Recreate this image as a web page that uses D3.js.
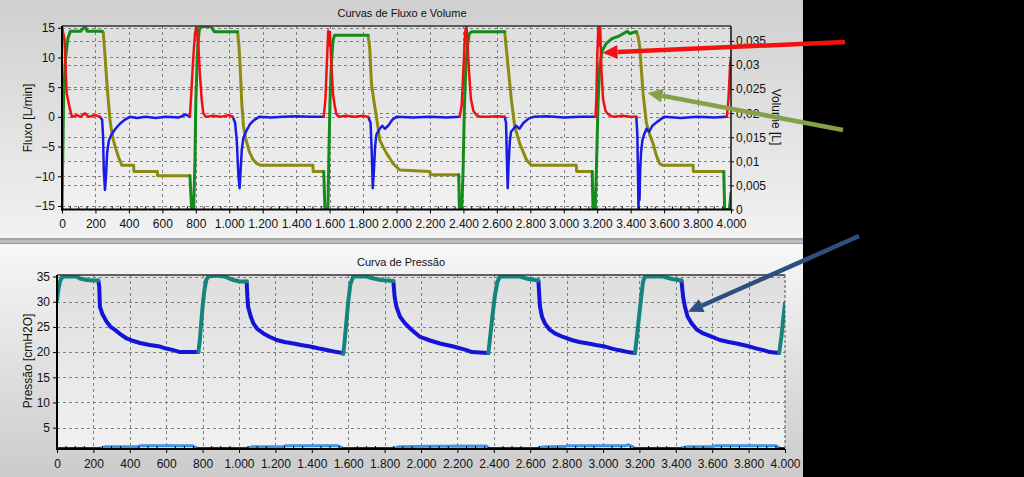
<!DOCTYPE html>
<html>
<head>
<meta charset="utf-8">
<script src="https://cdn.jsdelivr.net/npm/d3@7"></script>
<style>
  body { margin: 0; background: #000; }
  text { font-family: Arial, "Liberation Sans", sans-serif; }
</style>
</head>
<body>
<svg id="chart"></svg>
<script>
// ---- data (t in ms) ----
var timeTicks = [0, 200, 400, 600, 800, 1000, 1200, 1400, 1600, 1800, 2000, 2200, 2400, 2600, 2800, 3000, 3200, 3400, 3600, 3800, 4000];
var flowTicks = [-15, -10, -5, 0, 5, 10, 15];
var volTicks = [0, 0.005, 0.01, 0.015, 0.02, 0.025, 0.03, 0.035];
var presTicks = [5, 10, 15, 20, 25, 30, 35];

// flow, inspiratory part (red)
var flowInsp = [
  [0, 15.2], [8, 14], [15, 13], [22, 8], [28, 4], [35, 3], [50, 1], [60, 0], [90, 0.3], [110, 0], [137, 0.6], [160, 0], [200, 0.3], [227, 0], null,
  [765, 0], [775, 5], [785, 10], [795, 14], [805, 15.4], [815, 12], [825, 7], [835, 3], [845, 0.6], [860, 0], [900, 0.2], [950, 0], [1000, 0.3], [1021, 0], null,
  [1565, 0], [1575, 3], [1585, 10], [1592, 14.5], [1598, 12], [1602, 14.3], [1610, 9], [1620, 4], [1630, 2], [1640, 0.5], [1655, 0], [1700, 0.2], [1750, 0], [1800, 0.2], [1830, 0], null,
  [2378, 0], [2390, 2], [2400, 8], [2410, 14], [2418, 15.5], [2425, 12], [2435, 7], [2445, 3], [2460, 1], [2478, 0.3], [2500, 0], [2550, 0], [2600, 0.1], [2647, 0], null,
  [3190, 0], [3195, 3], [3200, 10], [3207, 15.3], [3213, 12], [3218, 15], [3225, 8], [3235, 3], [3250, 1], [3270, 0.3], [3300, 0], [3350, 0.2], [3400, 0], [3434, 0], null,
  [3975, 0], [3985, 3], [3995, 9], [4000, 10]
];
// flow, expiratory part (blue)
var flowExp = [
  [227, 0], [240, -0.5], [245, -3], [250, -9], [257, -12.3], [263, -10], [270, -6], [280, -4], [295, -3], [320, -2], [345, -1.2], [375, -0.5], [405, 0], [450, -0.2], [500, 0], [560, -0.2], [620, 0], [700, -0.1], [740, 0.4], [765, 0], null,
  [1021, 0], [1035, -1], [1045, -4], [1055, -10], [1062, -12], [1068, -9], [1075, -5.5], [1085, -3.5], [1100, -2.5], [1125, -1.2], [1150, -0.5], [1180, 0], [1250, -0.1], [1320, 0], [1400, 0.1], [1480, 0], [1565, 0], null,
  [1830, 0], [1845, -1], [1852, -6], [1858, -12], [1865, -9], [1872, -5], [1880, -3], [1890, -2.5], [1900, -2], [1915, -1.5], [1930, -2], [1950, -1.5], [1975, -0.5], [2000, 0], [2100, -0.1], [2200, 0], [2300, -0.1], [2378, 0], null,
  [2647, 0], [2655, -1], [2660, -7], [2665, -12], [2670, -8], [2678, -4], [2685, -2.5], [2700, -2], [2715, -1.5], [2735, -2], [2760, -1], [2790, -0.3], [2820, 0], [2900, 0.1], [3000, -0.1], [3100, 0], [3190, 0], null,
  [3434, 0], [3440, -3], [3444, -10], [3447, -15.8], [3450, -8], [3453, -14], [3457, -9], [3462, -6], [3470, -4], [3480, -3], [3495, -2], [3510, -2.5], [3530, -1.5], [3560, -0.8], [3600, 0], [3700, -0.2], [3800, 0], [3900, -0.1], [3975, 0]
];
// volume, inspiratory part (green)
var volInsp = [
  [0, 0], [5, 0.012], [10, 0.024], [20, 0.031], [35, 0.0355], [50, 0.037], [110, 0.037], [125, 0.0375], [140, 0.038], [150, 0.037], [240, 0.037], null,
  [765, 0.007], [775, 0], [787, 0], [795, 0.01], [800, 0.022], [808, 0.031], [818, 0.0365], [825, 0.038], [890, 0.038], [900, 0.0375], [910, 0.0369], [1050, 0.0369], null,
  [1565, 0.0079], [1572, 0], [1590, 0], [1595, 0.01], [1602, 0.022], [1610, 0.03], [1620, 0.035], [1630, 0.0362], [1830, 0.0362], null,
  [2372, 0.0072], [2376, 0], [2390, 0], [2398, 0.008], [2405, 0.02], [2415, 0.03], [2425, 0.034], [2435, 0.0365], [2450, 0.0369], [2647, 0.0369], null,
  [3170, 0.0079], [3175, 0], [3188, 0], [3195, 0.008], [3205, 0.022], [3215, 0.03], [3230, 0.033], [3255, 0.0345], [3290, 0.0355], [3330, 0.036], [3370, 0.0368], [3380, 0.037], [3395, 0.0365], [3420, 0.0368], [3434, 0.0369], null,
  [3957, 0.0079], [3962, 0], [3990, 0], [4000, 0.0034]
];
// volume, expiratory part (olive)
var volExp = [
  [240, 0.037], [247, 0.0367], [257, 0.032], [267, 0.0269], [277, 0.0225], [287, 0.0186], [297, 0.0162], [307, 0.0144], [320, 0.0128], [337, 0.011], [357, 0.0092], [428, 0.0092], [430, 0.0079], [570, 0.0079], [572, 0.007], [765, 0.007], null,
  [1050, 0.0369], [1058, 0.034], [1065, 0.0297], [1075, 0.022], [1085, 0.0173], [1100, 0.0145], [1120, 0.012], [1140, 0.0105], [1165, 0.0095], [1185, 0.0092], [1500, 0.0092], [1502, 0.0079], [1565, 0.0079], null,
  [1830, 0.0362], [1840, 0.0335], [1850, 0.0263], [1865, 0.0225], [1880, 0.0193], [1900, 0.0144], [1920, 0.013], [1940, 0.0117], [1980, 0.0095], [2020, 0.0082], [2200, 0.0079], [2202, 0.0072], [2372, 0.0072], null,
  [2647, 0.0369], [2655, 0.034], [2667, 0.0297], [2687, 0.0227], [2707, 0.0172], [2737, 0.0137], [2777, 0.0103], [2807, 0.0092], [3075, 0.0092], [3077, 0.0079], [3170, 0.0079], null,
  [3434, 0.0369], [3444, 0.036], [3454, 0.0338], [3474, 0.0242], [3494, 0.018], [3514, 0.0155], [3534, 0.0137], [3554, 0.0112], [3574, 0.0095], [3590, 0.0092], [3773, 0.0092], [3775, 0.0079], [3957, 0.0079]
];
// pressure, inspiratory part (teal)
var presInsp = [
  [0, 30.3], [8, 32.5], [16, 34], [30, 35], [60, 35], [108, 35], [126, 34.6], [163, 34.3], [200, 34.2], [227, 34.2], null,
  [777, 20], [785, 22.5], [792, 25.7], [800, 29], [810, 32.3], [820, 34.3], [832, 35], [870, 35.2], [920, 35], [969, 34.3], [1005, 34], [1042, 34], null,
  [1573, 19.6], [1580, 22], [1590, 26], [1600, 30], [1612, 33.5], [1628, 35], [1700, 35], [1740, 34.6], [1780, 34.3], [1812, 34.2], [1848, 34.1], null,
  [2370, 19.8], [2380, 23], [2392, 27], [2405, 31], [2420, 34], [2434, 35], [2544, 35], [2590, 34.5], [2627, 34.3], [2645, 34.2], null,
  [3176, 19.8], [3186, 23], [3198, 27], [3210, 31], [3220, 34], [3231, 35], [3330, 35], [3380, 34.5], [3413, 34.3], [3431, 34.2], null,
  [3968, 19.8], [3980, 23], [3990, 26.5], [4000, 29.7]
];
// pressure, expiratory part (blue)
var presExp = [
  [227, 34.2], [232, 33], [236, 29], [250, 27.5], [273, 26], [295, 25], [319, 24.4], [350, 23.5], [383, 22.7], [420, 22.2], [456, 21.8], [510, 21.4], [566, 21.1], [600, 20.7], [639, 20.4], [676, 20], [777, 20], null,
  [1042, 34], [1046, 31], [1050, 29], [1065, 27], [1079, 25.7], [1100, 24.6], [1134, 23.7], [1170, 23], [1207, 22.4], [1250, 22], [1299, 21.7], [1340, 21.4], [1390, 21.1], [1440, 20.7], [1482, 20.4], [1537, 20], [1573, 19.8], null,
  [1848, 34.1], [1855, 31], [1865, 29], [1885, 27], [1910, 25.8], [1940, 24.7], [1995, 23], [2050, 22.3], [2104, 21.7], [2178, 21.1], [2251, 20.4], [2279, 20], [2370, 19.8], null,
  [2645, 34.2], [2650, 31], [2654, 29], [2665, 27], [2681, 25.7], [2705, 24.5], [2736, 23.7], [2780, 23], [2828, 22.4], [2870, 22], [2919, 21.7], [2960, 21.4], [3011, 21.1], [3050, 20.7], [3084, 20.4], [3139, 20], [3176, 19.8], null,
  [3431, 34.2], [3440, 31], [3450, 29], [3465, 27], [3487, 25.7], [3515, 24.5], [3551, 23.7], [3600, 23], [3642, 22.4], [3690, 22], [3734, 21.7], [3770, 21.4], [3807, 21.1], [3845, 20.7], [3880, 20.4], [3917, 20], [3968, 19.8]
];
// low pressure trace near the bottom
var lowInsp = [
  [0, 0.95], [236, 0.95], null, [770, 0.95], [1045, 0.95], null, [1568, 0.95], [1850, 0.95], null,
  [2370, 0.95], [2645, 0.95], null, [3172, 0.95], [3431, 0.95], null, [3968, 0.95], [4000, 0.95]
];
var lowExp = [
  [236, 0.95], [265, 1.2], [440, 1.2], [455, 1.4], [745, 1.4], [770, 0.95], null,
  [1045, 0.95], [1075, 1.2], [1240, 1.2], [1255, 1.4], [1545, 1.4], [1568, 0.95], null,
  [1850, 0.95], [1880, 1.2], [2050, 1.3], [2360, 1.35], [2370, 0.95], null,
  [2645, 0.95], [2680, 1.2], [2790, 1.25], [2800, 1.4], [3120, 1.4], [3140, 1.6], [3160, 1.3], [3172, 0.95], null,
  [3431, 0.95], [3465, 1.2], [3600, 1.25], [3620, 1.4], [3950, 1.4], [3968, 0.95]
];

// ---- setup ----
var W = 1024, H = 477;
var svg = d3.select('#chart').attr('width', W).attr('height', H);

var pt = d3.formatLocale({decimal: ',', thousands: '.', grouping: [3], currency: ['R$', '']});
var fmtTime = pt.format(',d');
var fmtVol = function(d) { return d === 0 ? '0' : pt.format('.3~f')(d); };

var defs = svg.append('defs');
function vGrad(id, c0, c1) {
  var g = defs.append('linearGradient').attr('id', id).attr('x1', 0).attr('y1', 0).attr('x2', 0).attr('y2', 1);
  g.append('stop').attr('offset', '0%').attr('stop-color', c0);
  g.append('stop').attr('offset', '100%').attr('stop-color', c1);
}
vGrad('gTopPanel', '#cfcfcf', '#f2f2f2');
vGrad('gBotPanel', '#f7f7f7', '#cbcbcb');
vGrad('gPlot', '#dedede', '#f1f1f1');

// panels
svg.append('rect').attr('x', 0).attr('y', 0).attr('width', 803).attr('height', 238).attr('fill', 'url(#gTopPanel)');
svg.append('rect').attr('x', 0).attr('y', 238).attr('width', 803).attr('height', 6).attr('fill', '#bdbdbd');
svg.append('line').attr('x1', 0).attr('x2', 803).attr('y1', 239).attr('y2', 239).attr('stroke', '#8a8a8a');
svg.append('line').attr('x1', 0).attr('x2', 803).attr('y1', 243.5).attr('y2', 243.5).attr('stroke', '#9a9a9a');
svg.append('rect').attr('x', 0).attr('y', 244).attr('width', 803).attr('height', 233).attr('fill', 'url(#gBotPanel)');
svg.append('rect').attr('x', 803).attr('y', 0).attr('width', W - 803).attr('height', H).attr('fill', '#000');

// ---- scales ----
var topBox = {x0: 62, x1: 731, y0: 26, y1: 209.5};
var botBox = {x0: 57, x1: 785, y0: 275, y1: 449};

var xTop = d3.scaleLinear().domain([0, 4000]).range([topBox.x0, topBox.x1]);
var yFlow = d3.scaleLinear().domain([-15.6, 15.3]).range([topBox.y1, topBox.y0]);
var yVol = d3.scaleLinear().domain([0, 0.0381]).range([topBox.y1, topBox.y0]);
var xBot = d3.scaleLinear().domain([0, 4000]).range([botBox.x0, botBox.x1]);
var yPres = d3.scaleLinear().domain([0.77, 35.3]).range([botBox.y1, botBox.y0]);

function plotBox(b, id) {
  svg.append('rect').attr('x', b.x0).attr('y', b.y0).attr('width', b.x1 - b.x0).attr('height', b.y1 - b.y0)
    .attr('fill', 'url(#gPlot)');
  defs.append('clipPath').attr('id', id).append('rect')
    .attr('x', b.x0).attr('y', b.y0).attr('width', b.x1 - b.x0).attr('height', b.y1 - b.y0);
}
plotBox(topBox, 'clipTop');
plotBox(botBox, 'clipBot');

function grid(xs, ys, b, xTicks, yTicks) {
  var g = svg.append('g').attr('stroke', '#808080').attr('stroke-width', 1).attr('stroke-dasharray', '3,3');
  g.selectAll('.vg').data(xTicks.slice(1, -1)).enter().append('line')
    .attr('x1', function(d) { return Math.round(xs(d)) + 0.5; })
    .attr('x2', function(d) { return Math.round(xs(d)) + 0.5; })
    .attr('y1', b.y0).attr('y2', b.y1);
  g.selectAll('.hg').data(yTicks).enter().append('line')
    .attr('x1', b.x0).attr('x2', b.x1)
    .attr('y1', function(d) { return Math.round(ys(d)) + 0.5; })
    .attr('y2', function(d) { return Math.round(ys(d)) + 0.5; });
}
grid(xTop, yFlow, topBox, timeTicks, flowTicks);
grid(xTop, yVol, topBox, [], volTicks.slice(1));
grid(xBot, yPres, botBox, timeTicks, presTicks);

// ---- lines ----
function drawLine(data, xs, ys, color, width, clip) {
  var line = d3.line()
    .defined(function(d) { return d !== null; })
    .x(function(d) { return xs(d[0]); })
    .y(function(d) { return ys(d[1]); });
  svg.append('path').datum(data)
    .attr('clip-path', 'url(#' + clip + ')')
    .attr('fill', 'none').attr('stroke', color).attr('stroke-width', width)
    .attr('stroke-linejoin', 'round').attr('stroke-linecap', 'round')
    .attr('d', line);
}
drawLine(volExp, xTop, yVol, '#8c8a10', 3, 'clipTop');
drawLine(volInsp, xTop, yVol, '#138c1c', 3, 'clipTop');
drawLine(flowExp, xTop, yFlow, '#1a1ae6', 2.5, 'clipTop');
drawLine(flowInsp, xTop, yFlow, '#f01010', 2.5, 'clipTop');

drawLine(lowExp, xBot, yPres, '#3d93e6', 3, 'clipBot');
drawLine(lowInsp, xBot, yPres, '#1c2e7a', 2, 'clipBot');
drawLine(presExp, xBot, yPres, '#1414d6', 4, 'clipBot');
drawLine(presInsp, xBot, yPres, '#14857c', 4, 'clipBot');

// ---- frames & axes ----
function frame(b, rightDashed) {
  svg.append('line').attr('x1', b.x0).attr('x2', b.x1).attr('y1', b.y0).attr('y2', b.y0).attr('stroke', '#333').attr('stroke-width', 1.5);
  var r = svg.append('line').attr('x1', b.x1).attr('x2', b.x1).attr('y1', b.y0).attr('y2', b.y1);
  if (rightDashed) r.attr('stroke', '#555').attr('stroke-dasharray', '3,2');
  else r.attr('stroke', '#111').attr('stroke-width', 1.5);
  svg.append('line').attr('x1', b.x0).attr('x2', b.x0).attr('y1', b.y0).attr('y2', b.y1 + 1).attr('stroke', '#000').attr('stroke-width', 2);
  svg.append('line').attr('x1', b.x0 - 1).attr('x2', b.x1).attr('y1', b.y1).attr('y2', b.y1).attr('stroke', '#000').attr('stroke-width', 2);
}
frame(topBox, false);
frame(botBox, true);

function axisStyle(g) {
  g.select('.domain').remove();
  g.selectAll('text').attr('fill', '#111').style('font-size', '12px').style('font-family', 'Arial, "Liberation Sans", sans-serif');
  g.selectAll('line').attr('stroke', '#000');
}

// bottom axes
[[xTop, topBox], [xBot, botBox]].forEach(function(p) {
  var xs = p[0], b = p[1];
  svg.append('g').attr('transform', 'translate(0,' + b.y1 + ')')
    .call(d3.axisBottom(xs).tickValues(timeTicks).tickFormat(fmtTime).tickSize(4).tickPadding(6))
    .call(axisStyle);
  var minor = [];
  timeTicks.slice(0, -1).forEach(function(t) { minor.push(t + 50, t + 100, t + 150); });
  svg.append('g').selectAll('line').data(minor).enter().append('line')
    .attr('x1', function(d) { return xs(d); }).attr('x2', function(d) { return xs(d); })
    .attr('y1', b.y1 - 3).attr('y2', b.y1).attr('stroke', '#000');
});

svg.append('g').attr('transform', 'translate(' + topBox.x0 + ',0)')
  .call(d3.axisLeft(yFlow).tickValues(flowTicks).tickSize(4).tickPadding(3))
  .call(axisStyle);
svg.append('g').attr('transform', 'translate(' + topBox.x1 + ',0)')
  .call(d3.axisRight(yVol).tickValues(volTicks).tickFormat(fmtVol).tickSize(3).tickPadding(2))
  .call(axisStyle);
svg.append('g').attr('transform', 'translate(' + botBox.x0 + ',0)')
  .call(d3.axisLeft(yPres).tickValues(presTicks).tickSize(4).tickPadding(3))
  .call(axisStyle);

// ---- titles ----
function label(x, y, txt, size, rot) {
  var t = svg.append('text').attr('x', 0).attr('y', 0).attr('text-anchor', 'middle')
    .attr('dominant-baseline', 'central').attr('fill', '#111').style('font-size', size + 'px').text(txt);
  t.attr('transform', 'translate(' + x + ',' + y + ')' + (rot ? ' rotate(' + rot + ')' : ''));
}
label(402, 13, 'Curvas de Fluxo e Volume', 11);
label(401, 262, 'Curva de Pressão', 11);
label(28, 118, 'Fluxo [L/min]', 12, -90);
label(776, 117, 'Volume [L]', 12, 90);
label(28, 361, 'Pressão [cmH2O]', 12, -90);

// ---- annotation arrows (tip in data coords, tail in the black margin) ----
var arrows = [
  {tip: [xTop(3232), yFlow(10.8)], tail: [845, 42], color: '#f21212'},
  {tip: [xTop(3501), yVol(0.0242)], tail: [843, 130], color: '#86a048'},
  {tip: [xBot(3467), yPres(28.0)], tail: [859, 236], color: '#2c4f80'}
];
arrows.forEach(function(a) {
  var dx = a.tip[0] - a.tail[0], dy = a.tip[1] - a.tail[1];
  var len = Math.sqrt(dx * dx + dy * dy), ux = dx / len, uy = dy / len;
  var hl = 15, hw = 7;
  var bx = a.tip[0] - ux * hl, by = a.tip[1] - uy * hl;
  svg.append('line').attr('x1', a.tail[0]).attr('y1', a.tail[1]).attr('x2', bx).attr('y2', by)
    .attr('stroke', a.color).attr('stroke-width', 4.5);
  svg.append('path')
    .attr('d', 'M' + a.tip[0] + ',' + a.tip[1] +
      'L' + (bx - uy * hw) + ',' + (by + ux * hw) +
      'L' + (bx + uy * hw) + ',' + (by - ux * hw) + 'Z')
    .attr('fill', a.color);
});
</script>
</body>
</html>
